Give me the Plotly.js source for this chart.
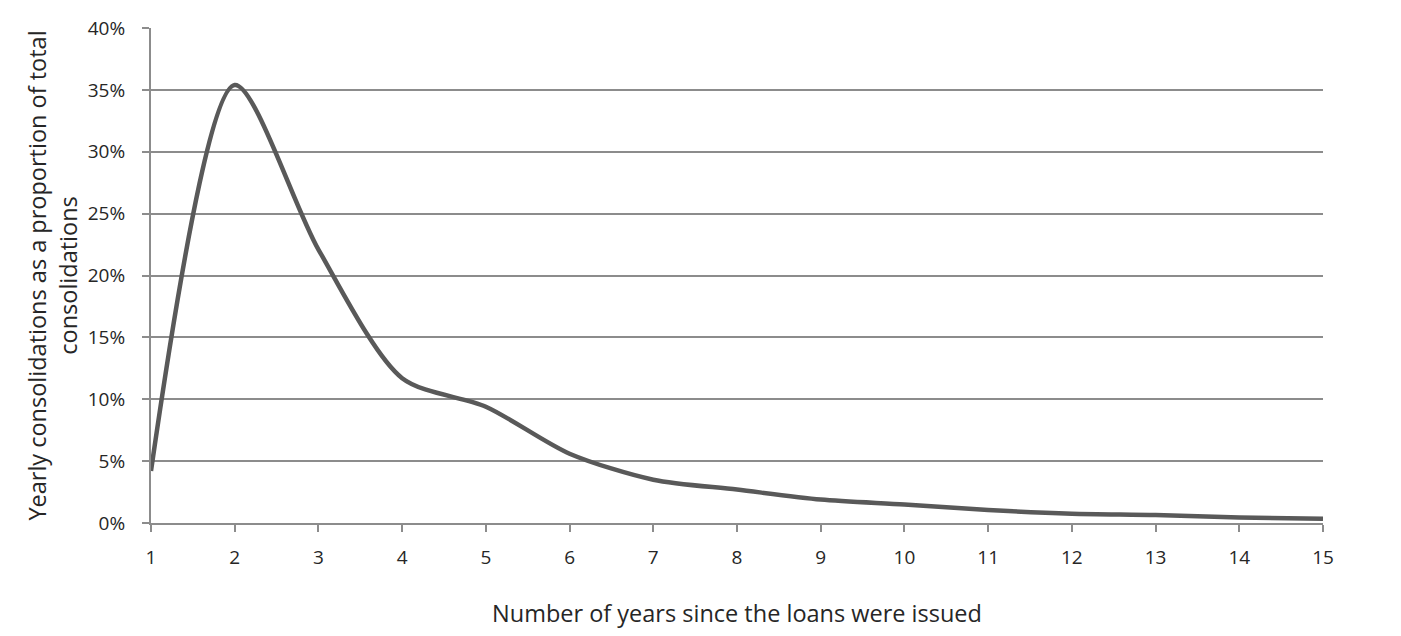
<!DOCTYPE html>
<html><head><meta charset="utf-8">
<script src="https://cdn.plot.ly/plotly-3.0.1.min.js"></script>
<style>html,body{margin:0;padding:0;background:#fff}#c{width:1401px;height:636px}</style>
</head><body><div id="c"></div>
<script>
const years = [1,2,3,4,5,6,7,8,9,10,11,12,13,14,15];
const shares = [0.042,0.354,0.221,0.117,0.094,0.056,0.035,0.027,0.019,0.015,0.0105,0.0075,0.0065,0.0045,0.0035];
const yTickVals = [0,0.05,0.1,0.15,0.2,0.25,0.3,0.35,0.4];
const xTitle = "Number of years since the loans were issued";
const yTitle = "Yearly consolidations as a proportion of total<br>consolidations";

Plotly.newPlot('c', [{
  x: years, y: shares, type: 'scatter', mode: 'lines',
  line: {color: '#595959', width: 4.5, shape: 'spline', smoothing: 0.8}
}], {
  width: 1401, height: 636,
  margin: {l: 151, r: 78, t: 28, b: 113},
  paper_bgcolor: '#fff', plot_bgcolor: '#fff',
  showlegend: false,
  font: {family: 'Open Sans, DejaVu Sans, sans-serif', size: 19, color: '#262626'},
  xaxis: {
    range: [1, 15], tickvals: years, ticks: 'outside', ticklen: 7, tickcolor: '#8c8c8c', tickwidth: 2,
    showgrid: false, showline: true, linecolor: '#8c8c8c', linewidth: 2, zeroline: false,
    tickfont: {size: 19}, ticklabelstandoff: 9, fixedrange: true,
    title: {text: xTitle, font: {size: 23.5}, standoff: 37}
  },
  yaxis: {
    range: [0, 0.4], tickvals: yTickVals, tickformat: '.0%', ticks: 'outside', ticklen: 7, tickcolor: '#8c8c8c', tickwidth: 2,
    showgrid: true, gridcolor: '#8c8c8c', gridwidth: 2, showline: true, linecolor: '#8c8c8c', linewidth: 2, zeroline: false,
    tickfont: {size: 19}, ticklabelstandoff: 13, fixedrange: true,
    title: {text: yTitle, font: {size: 23.5}, standoff: 4}
  }
}, {displayModeBar: false, staticPlot: true});
</script></body></html>
